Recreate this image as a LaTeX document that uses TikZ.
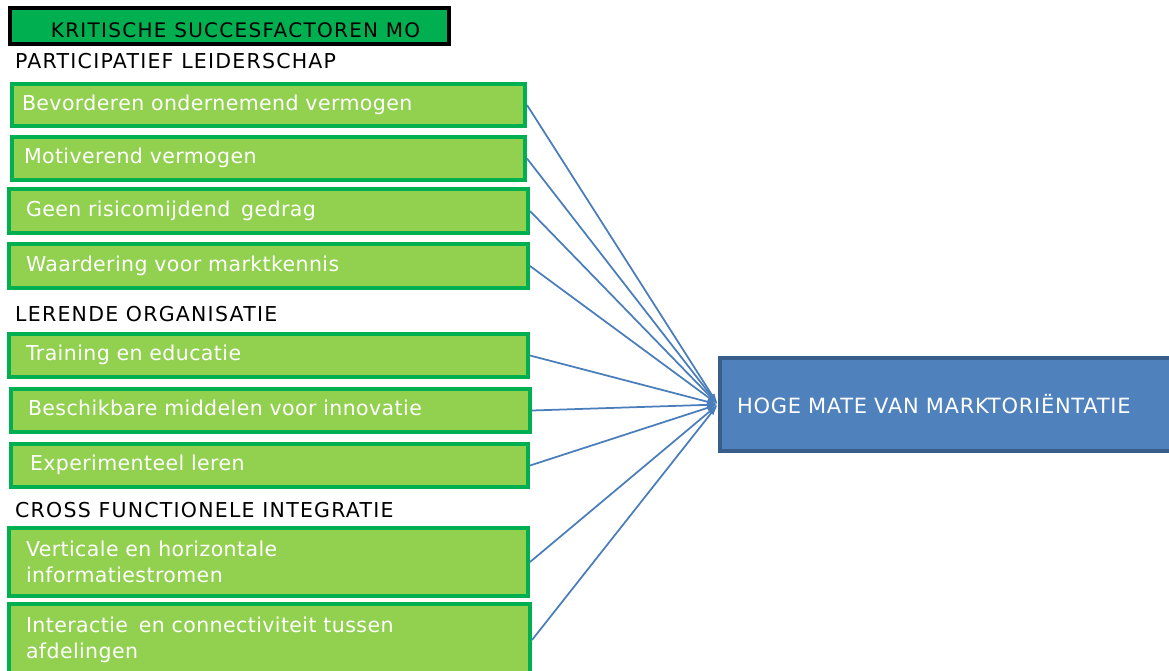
\documentclass[tikz,border=0pt]{standalone}
\usepackage{fontspec}
\usetikzlibrary{arrows.meta}
\newfontfamily\bodyfont[LetterSpace=2]{DejaVu Sans}
\newfontfamily\headfont[LetterSpace=6]{DejaVu Sans}
\newfontfamily\titlefont[LetterSpace=6.5]{DejaVu Sans}
\newfontfamily\goalfont[LetterSpace=3.5]{DejaVu Sans}
\definecolor{leafgreen}{HTML}{92D050}
\definecolor{darkgreen}{HTML}{00B050}
\definecolor{goalblue}{HTML}{4F81BD}
\definecolor{goaledge}{HTML}{385D8A}
\definecolor{linkblue}{HTML}{4A7EBB}
\tikzset{
  factor/.style={draw=darkgreen, fill=leafgreen, line width=4pt, text=white,
    font=\bodyfont\fontsize{20.5}{26}\selectfont, align=left, inner ysep=0pt},
  oneline/.style={factor, text height=15.5pt, text depth=5pt},
  heading/.style={anchor=base west, inner sep=0pt, text=black,
    font=\headfont\fontsize{20.5}{24}\selectfont},
  titlebox/.style={draw=black, fill=darkgreen, line width=4pt, text=black,
    font=\titlefont\fontsize{20}{24}\selectfont, inner sep=0pt,
    text height=22pt, text depth=0pt},
  goalbox/.style={draw=goaledge, fill=goalblue, line width=4pt, text=white,
    font=\goalfont\fontsize{21}{26}\selectfont, align=left,
    inner ysep=0pt},
  link/.style={draw=linkblue, line width=1.75pt,
    -{Latex[length=11pt,width=6pt]}}
}
\begin{document}
\begin{tikzpicture}[x=1pt,y=-1pt]
\useasboundingbox (0,0) rectangle (1169,670);
\clip (0,0) rectangle (1169,670);

% title
\node[titlebox, minimum width=439, minimum height=36] (title) at (229.5,26)
  {\hspace{12pt}KRITISCHE SUCCESFACTOREN MO};

% group headings
\node[heading] (hpl) at (15,68) {PARTICIPATIEF LEIDERSCHAP};
\node[heading] (hlo) at (15,321) {LERENDE ORGANISATIE};
\node[heading] (hcf) at (15,517) {CROSS FUNCTIONELE INTEGRATIE};

% success factors
\node[oneline, minimum width=513, minimum height=42, inner xsep=10, text width=493]
  (f1) at (268.5,105) {Bevorderen ondernemend vermogen};
\node[oneline, minimum width=513, minimum height=43, inner xsep=12, text width=489]
  (f2) at (268.5,158.5) {Motiverend vermogen};
\node[oneline, minimum width=519, minimum height=44, inner xsep=17, text width=485]
  (f3) at (268.5,211) {Geen risicomijdend\hspace{4pt} gedrag};
\node[oneline, minimum width=519, minimum height=44, inner xsep=17, text width=485]
  (f4) at (268.5,266) {Waardering voor marktkennis};
\node[oneline, minimum width=519, minimum height=43, inner xsep=17, text width=485]
  (f5) at (268.5,355.5) {Training en educatie};
\node[oneline, minimum width=519, minimum height=43, inner xsep=17, text width=485]
  (f6) at (270.5,410.5) {Beschikbare middelen voor innovatie};
\node[oneline, minimum width=517, minimum height=43, inner xsep=19, text width=479]
  (f7) at (269.5,465.5) {Experimenteel leren};
\node[factor, minimum width=519, minimum height=68, inner xsep=17, text width=485]
  (f8) at (268.5,562) {Verticale en horizontale\\informatiestromen};
\node[factor, minimum width=521, minimum height=72, inner xsep=17, text width=487]
  (f9) at (269.5,640) {Interactie\hspace{4pt} en connectiviteit tussen\\afdelingen};

% outcome
\node[goalbox, minimum width=458, minimum height=93, inner xsep=17, text width=424]
  (goal) at (949,404.5) {HOGE MATE VAN MARKTORIËNTATIE};

% connectors
\foreach \f in {f1,f2,f3,f4,f5,f6,f7,f8,f9}
  \draw[link] (\f.east) -- (goal.west);
\end{tikzpicture}
\end{document}
